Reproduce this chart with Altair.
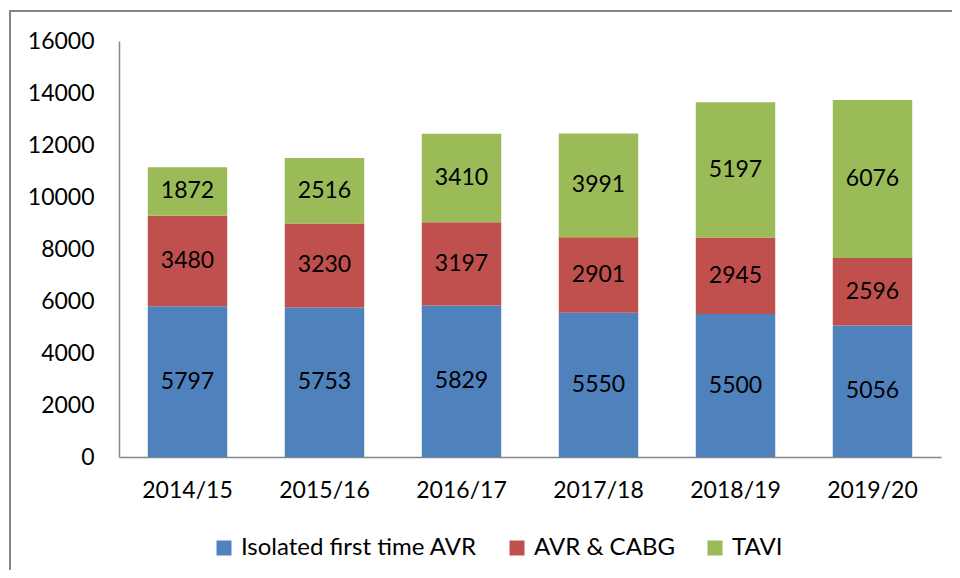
import altair as alt
import pandas as pd

years = ["2014/15", "2015/16", "2016/17", "2017/18", "2018/19", "2019/20"]
series = ["Isolated first time AVR", "AVR & CABG", "TAVI"]
isolated = [5797, 5753, 5829, 5550, 5500, 5056]
avr_cabg = [3480, 3230, 3197, 2901, 2945, 2596]
tavi = [1872, 2516, 3410, 3991, 5197, 6076]
colors = ["#4F81BD", "#C0504D", "#9BBB59"]

rows = []
for i, y in enumerate(years):
    for k, (name, vals) in enumerate(zip(series, [isolated, avr_cabg, tavi])):
        rows.append({"year": y, "series": name, "value": vals[i], "order": k})
df = pd.DataFrame(rows)

FONT = "Lato"
FS = 23

base = alt.Chart(df)

bars = base.mark_bar().encode(
    x=alt.X("year:N", sort=years, title=None,
            scale=alt.Scale(paddingInner=0.42, paddingOuter=0.21),
            axis=alt.Axis(labelAngle=0, labelPadding=22, ticks=False,
                          domainColor="#868686", domainWidth=1.5)),
    y=alt.Y("value:Q", stack="zero", title=None,
            scale=alt.Scale(domain=[0, 16000], nice=False),
            axis=alt.Axis(values=list(range(0, 16001, 2000)), grid=False, ticks=False,
                          format="d", labelPadding=25, domainColor="#868686", domainWidth=1.5)),
    color=alt.Color("series:N", scale=alt.Scale(domain=series, range=colors),
                    legend=alt.Legend(title=None, orient="none", direction="horizontal",
                                      legendX=93, legendY=495, symbolType="square",
                                      symbolSize=225, symbolStrokeWidth=0, labelLimit=0,
                                      labelFontSize=24, labelFont=FONT, labelColor="black",
                                      columnPadding=28, symbolOffset=0, labelOffset=5)),
    order=alt.Order("order:Q"),
)

labels = base.transform_stack(
    stack="value", groupby=["year"], sort=[alt.SortField("order")], as_=["y0", "y1"]
).transform_calculate(
    mid="(datum.y0 + datum.y1) / 2"
).mark_text(font=FONT, fontSize=FS, color="black", baseline="middle").encode(
    x=alt.X("year:N", sort=years),
    y=alt.Y("mid:Q"),
    text=alt.Text("value:Q", format="d"),
)

border = alt.Chart(pd.DataFrame({"a": [0]})).mark_rect(
    fill=None, stroke="#868686", strokeWidth=2
).encode(
    x=alt.value(-109), x2=alt.value(1000), y=alt.value(-30), y2=alt.value(700)
)

chart = alt.layer(bars, labels, border).properties(
    width=822, height=416,
    autosize=alt.AutoSizeParams(type="none"),
    padding={"left": 111, "top": 33, "right": 11, "bottom": 113},
).configure_view(stroke=None).configure_axis(
    labelFont=FONT, labelFontSize=FS, labelColor="black"
)

chart.save("out.html", embed_options={"renderer": "svg", "actions": False})
